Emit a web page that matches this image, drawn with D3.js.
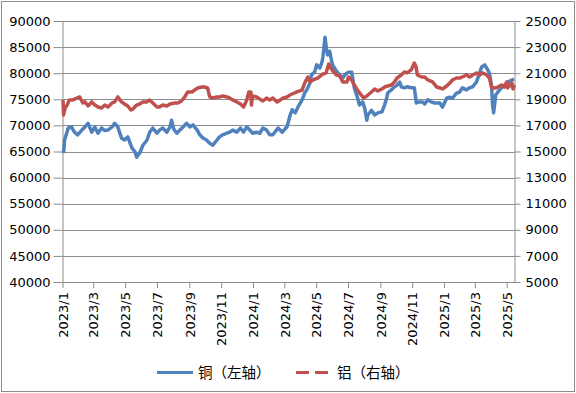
<!DOCTYPE html>
<html>
<head>
<meta charset="utf-8">
<script src="https://cdn.jsdelivr.net/npm/d3@7"></script>
<style>
  body { margin: 0; background: #fff; }
  text { font-family: "DejaVu Sans", sans-serif; fill: #000; }
  .legend text { font-family: "Noto Sans CJK SC", sans-serif; }
</style>
</head>
<body>
<svg id="chart" width="576" height="393"></svg>
<script>
// copper, left axis (yuan/ton)
var copperData = [
  ["2023-01-03",64700],["2023-01-05",67200],["2023-01-09",68500],["2023-01-12",69500],["2023-01-18",69700],
  ["2023-01-24",68700],["2023-01-30",68200],["2023-02-07",69100],["2023-02-13",69700],["2023-02-19",70400],
  ["2023-02-26",68700],["2023-03-04",69700],["2023-03-10",68500],["2023-03-17",69500],["2023-03-23",69000],
  ["2023-03-29",69100],["2023-04-06",69700],["2023-04-11",70400],["2023-04-17",69700],["2023-04-24",67600],
  ["2023-04-30",67200],["2023-05-06",67800],["2023-05-14",65700],["2023-05-20",64900],["2023-05-23",63900],
  ["2023-05-29",64700],["2023-06-04",66200],["2023-06-12",67200],["2023-06-17",68700],["2023-06-23",69500],
  ["2023-07-01",68500],["2023-07-06",69100],["2023-07-12",69500],["2023-07-20",68700],["2023-07-26",69700],
  ["2023-07-29",71000],["2023-08-02",69300],["2023-08-08",68500],["2023-08-14",69100],["2023-08-20",69700],
  ["2023-08-27",70400],["2023-09-02",69700],["2023-09-08",70100],["2023-09-16",69100],["2023-09-21",68200],
  ["2023-09-27",67600],["2023-10-04",67200],["2023-10-10",66600],["2023-10-16",66200],["2023-10-24",67200],
  ["2023-10-29",67800],["2023-11-04",68200],["2023-11-12",68500],["2023-11-17",68700],["2023-11-23",69100],
  ["2023-12-01",68700],["2023-12-08",69500],["2023-12-14",68700],["2023-12-20",69700],["2023-12-26",69100],
  ["2023-12-31",68500],["2024-01-08",68700],["2024-01-14",68500],["2024-01-20",69500],["2024-01-27",69100],
  ["2024-02-02",68200],["2024-02-08",68200],["2024-02-18",69500],["2024-02-26",68700],["2024-03-02",69300],
  ["2024-03-06",69700],["2024-03-12",71900],["2024-03-16",73000],["2024-03-22",72400],["2024-03-27",73500],
  ["2024-04-04",74900],["2024-04-09",76200],["2024-04-13",76800],["2024-04-19",78100],["2024-04-22",79700],
  ["2024-04-28",80200],["2024-05-02",81600],["2024-05-08",81000],["2024-05-12",82100],["2024-05-14",83100],
  ["2024-05-18",86900],["2024-05-21",84400],["2024-05-23",83500],["2024-05-27",84200],["2024-05-31",82100],
  ["2024-06-02",81500],["2024-06-09",80400],["2024-06-15",79700],["2024-06-21",79100],["2024-06-26",79800],
  ["2024-07-02",80200],["2024-07-08",80200],["2024-07-13",77200],["2024-07-19",75400],["2024-07-23",73900],
  ["2024-07-29",74500],["2024-08-02",73300],["2024-08-06",71000],["2024-08-08",72000],["2024-08-15",72900],
  ["2024-08-21",72000],["2024-08-27",72400],["2024-09-04",72600],["2024-09-09",73900],["2024-09-13",75200],
  ["2024-09-15",76200],["2024-09-22",76800],["2024-09-28",77400],["2024-10-03",77700],["2024-10-08",78300],
  ["2024-10-11",77400],["2024-10-17",77200],["2024-10-22",77400],["2024-10-30",77200],["2024-11-05",77200],
  ["2024-11-09",74300],["2024-11-15",74500],["2024-11-21",74500],["2024-11-25",74100],["2024-12-01",74900],
  ["2024-12-07",74500],["2024-12-14",74300],["2024-12-24",74300],["2024-12-29",73500],["2025-01-06",75200],
  ["2025-01-12",75400],["2025-01-17",75200],["2025-01-25",76200],["2025-01-31",76400],["2025-02-05",77200],
  ["2025-02-13",76800],["2025-02-19",77200],["2025-02-25",77400],["2025-03-04",78300],["2025-03-10",80000],
  ["2025-03-14",81200],["2025-03-20",81600],["2025-03-26",80600],["2025-03-29",80000],["2025-04-02",77700],
  ["2025-04-04",73900],["2025-04-06",72400],["2025-04-10",75800],["2025-04-14",76400],["2025-04-21",77200],
  ["2025-04-27",77700],["2025-05-03",78300],["2025-05-11",78700],["2025-05-15",78900]
];

// aluminium, right axis
var aluData = [
  ["2023-01-02",18950],["2023-01-03",17800],["2023-01-06",18330],["2023-01-10",18560],["2023-01-14",18950],
  ["2023-01-21",18950],["2023-01-29",19100],["2023-02-03",19180],["2023-02-09",18720],["2023-02-13",18800],
  ["2023-02-19",18490],["2023-02-26",18800],["2023-03-04",18560],["2023-03-10",18410],["2023-03-17",18330],
  ["2023-03-23",18560],["2023-03-29",18410],["2023-04-06",18720],["2023-04-11",18800],["2023-04-17",19180],
  ["2023-04-24",18800],["2023-04-30",18640],["2023-05-06",18490],["2023-05-12",18180],["2023-05-16",18260],
  ["2023-05-23",18560],["2023-05-29",18640],["2023-06-04",18800],["2023-06-12",18800],["2023-06-17",18950],
  ["2023-06-23",18720],["2023-07-01",18410],["2023-07-06",18410],["2023-07-12",18560],["2023-07-20",18490],
  ["2023-07-26",18640],["2023-08-04",18720],["2023-08-10",18720],["2023-08-17",18870],["2023-08-23",19180],
  ["2023-08-29",19560],["2023-09-06",19560],["2023-09-11",19710],["2023-09-17",19870],["2023-09-25",19940],
  ["2023-09-30",19940],["2023-10-06",19870],["2023-10-10",19180],["2023-10-16",19100],["2023-10-24",19180],
  ["2023-10-29",19180],["2023-11-04",19250],["2023-11-12",19180],["2023-11-17",19100],["2023-11-23",18950],
  ["2023-12-01",18800],["2023-12-08",18640],["2023-12-14",18410],["2023-12-20",18950],["2023-12-24",19560],
  ["2023-12-28",19560],["2023-12-29",18560],["2023-12-31",19250],["2024-01-08",19180],["2024-01-14",19020],
  ["2024-01-20",18870],["2024-01-27",19100],["2024-02-02",18950],["2024-02-08",19100],["2024-02-16",18790],
  ["2024-02-22",18950],["2024-02-28",19100],["2024-03-06",19180],["2024-03-12",19330],["2024-03-20",19480],
  ["2024-03-25",19560],["2024-04-04",19710],["2024-04-09",20250],["2024-04-15",20710],["2024-04-19",20330],
  ["2024-04-25",20480],["2024-05-04",20630],["2024-05-14",20940],["2024-05-20",21020],["2024-05-25",21710],
  ["2024-05-29",21400],["2024-06-02",21170],["2024-06-09",20860],["2024-06-15",20790],["2024-06-21",20330],
  ["2024-06-29",20330],["2024-07-02",20710],["2024-07-08",20480],["2024-07-13",20100],["2024-07-19",19710],
  ["2024-07-25",19400],["2024-07-31",19100],["2024-08-06",19250],["2024-08-15",19560],["2024-08-21",19790],
  ["2024-08-27",19640],["2024-09-04",19790],["2024-09-09",19940],["2024-09-15",20020],["2024-09-22",20100],
  ["2024-09-28",20330],["2024-10-03",20630],["2024-10-11",20860],["2024-10-17",21090],["2024-10-22",21020],
  ["2024-10-30",21250],["2024-11-05",21780],["2024-11-08",21550],["2024-11-11",20860],["2024-11-19",20710],
  ["2024-11-25",20710],["2024-12-01",20480],["2024-12-10",20330],["2024-12-18",19940],["2024-12-24",19870],
  ["2024-12-29",19790],["2025-01-06",20020],["2025-01-12",20250],["2025-01-17",20480],["2025-01-25",20630],
  ["2025-01-31",20630],["2025-02-05",20710],["2025-02-13",20860],["2025-02-19",20710],["2025-02-25",20860],
  ["2025-03-04",21020],["2025-03-10",20860],["2025-03-16",21020],["2025-03-24",20860],["2025-03-29",20630],
  ["2025-04-02",19940],["2025-04-06",19870],["2025-04-10",19870],["2025-04-14",19940],["2025-04-21",20100],
  ["2025-04-27",19940],["2025-05-01",20330],["2025-05-03",19870],["2025-05-08",20100],["2025-05-11",20250],
  ["2025-05-13",19790],["2025-05-16",20100]
];

var leftTicks = [40000,45000,50000,55000,60000,65000,70000,75000,80000,85000,90000];
var rightTicks = [5000,7000,9000,11000,13000,15000,17000,19000,21000,23000,25000];
var seriesNames = ["铜（左轴）", "铝（右轴）"];
var colors = ["#4F81BD", "#C0504D"];

var parse = d3.timeParse("%Y-%m-%d");
var plotLeft = 62.5, plotRight = 514.5, plotTop = 21, plotBottom = 282;
var gridColor = "#8c8c8c";

var svg = d3.select("#chart");

svg.append("rect")
    .attr("x", 1.5).attr("y", 1.5)
    .attr("width", 573).attr("height", 390)
    .attr("fill", "#fff").attr("stroke", gridColor);

var x = d3.scaleTime()
    .domain([parse("2023-01-01"), parse("2025-05-16")])
    .range([plotLeft, plotRight]);
var yL = d3.scaleLinear().domain([40000, 90000]).range([plotBottom, plotTop]);
var yR = d3.scaleLinear().domain([5000, 25000]).range([plotBottom, plotTop]);

// gridlines
svg.append("g")
    .selectAll("line")
    .data(leftTicks)
    .enter()
    .append("line")
        .attr("x1", plotLeft).attr("x2", plotRight)
        .attr("y1", function(d) { return Math.round(yL(d)) + 0.5 })
        .attr("y2", function(d) { return Math.round(yL(d)) + 0.5 })
        .attr("stroke", gridColor)

function styleAxis(g) {
    g.selectAll("path, line").attr("stroke", gridColor);
    g.selectAll("text").style("font-size", "13px").attr("fill", "#000");
}

svg.append("g")
    .attr("transform", "translate(" + plotLeft + ",0)")
    .call(d3.axisLeft(yL).tickValues(leftTicks).tickFormat(d3.format("d")).tickSize(9).tickSizeOuter(0).tickPadding(3))
    .call(styleAxis);

svg.append("g")
    .attr("transform", "translate(" + plotRight + ",0)")
    .call(d3.axisRight(yR).tickValues(rightTicks).tickFormat(d3.format("d")).tickSize(6).tickSizeOuter(0).tickPadding(5))
    .call(styleAxis);

var monthTicks = d3.timeMonth.every(2).range(parse("2023-01-01"), parse("2025-05-02"));
var xAxis = svg.append("g")
    .attr("transform", "translate(0," + plotBottom + ")")
    .call(d3.axisBottom(x).tickValues(monthTicks).tickFormat(d3.timeFormat("%Y/%-m")).tickSize(6).tickSizeOuter(0))
    .call(styleAxis);

xAxis.selectAll("text")
    .attr("transform", "rotate(-90)")
    .attr("x", -10)
    .attr("y", 0)
    .attr("dy", "0.36em")
    .style("text-anchor", "end");

var line = function(scale) {
    return d3.line()
        .x(function(d) { return x(parse(d[0])) })
        .y(function(d) { return scale(d[1]) });
};

svg.append("path")
    .datum(copperData)
    .attr("fill", "none")
    .attr("stroke", colors[0])
    .attr("stroke-width", 3.5)
    .attr("stroke-linejoin", "round")
    .attr("d", line(yL));

svg.append("path")
    .datum(aluData)
    .attr("fill", "none")
    .attr("stroke", colors[1])
    .attr("stroke-width", 3.5)
    .attr("stroke-linejoin", "round")
    .attr("d", line(yR));

// legend
var legend = svg.append("g").attr("class", "legend");
var legendX = [157, 296];
seriesNames.forEach(function(name, i) {
    legend.append("line")
        .attr("x1", legendX[i]).attr("x2", legendX[i] + (i == 0 ? 36 : 32))
        .attr("y1", 372.5).attr("y2", 372.5)
        .attr("stroke", colors[i])
        .attr("stroke-width", 3)
        .attr("stroke-dasharray", i == 1 ? "13,6" : null);
    legend.append("text")
        .attr("x", legendX[i] + 41)
        .attr("y", 372.5)
        .attr("dy", "0.36em")
        .style("font-size", "14.5px")
        .text(name);
});
</script>
</body>
</html>
